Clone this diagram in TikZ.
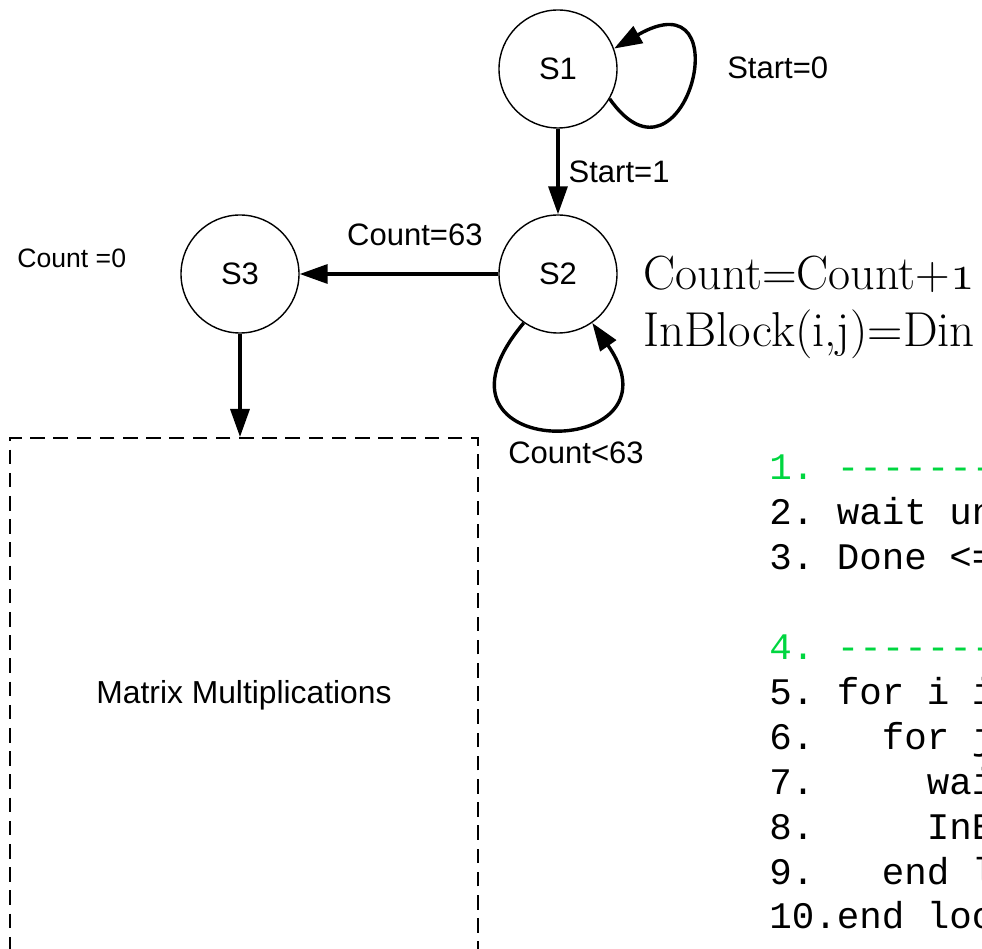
\documentclass[tikz,border=0pt]{standalone}
\usepackage{fontspec}
\setsansfont{Liberation Sans}
\setmonofont{Liberation Mono}
\usetikzlibrary{arrows.meta,positioning}
\definecolor{cmtgreen}{RGB}{0,214,64}

\begin{document}
\begin{tikzpicture}[x=0.5pt, y=0.5pt,
    state/.style={draw, circle, line width=0.7pt, minimum size=59pt, inner sep=0pt,
        font=\sffamily\fontsize{15.5}{18}\selectfont},
    trans/.style={line width=1.7pt, -{Triangle[length=14pt,width=9.5pt]}},
    lbl/.style={inner sep=0pt, font=\sffamily\fontsize{15.5}{18}\selectfont},
    codeline/.style={anchor=base west, inner sep=0pt,
        font=\ttfamily\fontsize{18.75}{22.5}\selectfont}]
    \useasboundingbox (0,0) rectangle (982,949);
    \clip (0,0) rectangle (982,949);

    % States
    \node[state] (s1) at (558,880) {S1};
    \node[state] (s2) at (558,675) {S2};
    \node[state] (s3) at (240,675) {S3};

    % Matrix block, runs off the bottom of the page
    \node[draw, dash pattern=on 7.3pt off 4.3pt, line width=1pt,
        minimum width=234pt, minimum height=257pt,
        font=\sffamily\fontsize{15.9}{19}\selectfont] (mm) at (244,254) {Matrix Multiplications};

    % Transitions
    \draw[trans] (s1) -- (s2) node[lbl, midway, right=4.5pt] {Start=1};
    \draw[trans] (s1.-30) .. controls +(-55:130) and +(30:150) .. (s1.20)
        node[lbl, pos=0.5, right=18.5pt, yshift=9pt] {Start=0};
    \draw[trans] (s2) -- (s3) node[lbl, pos=0.42, above=13pt] {Count=63};
    \draw[trans] (s2.-125) .. controls +(-130:185) and +(-55:170) .. (s2.-55)
        node[lbl, pos=0.5, below=6pt, xshift=13pt] {Count<63};
    \draw[trans] (s3.south) -- (s3.south |- mm.north);

    % Actions
    \node[lbl, anchor=base west, font=\sffamily\fontsize{13.3}{16}\selectfont] (init) at (17,681) {Count =0};
    \node[anchor=base west, inner sep=0pt, font=\fontsize{24}{28}\selectfont] (act1) at (643,659) {Count=Count+{\usefont{OML}{cmm}{m}{it}1}};
    \node[anchor=base west, inner sep=0pt, font=\fontsize{24.5}{28}\selectfont] (act2) at (643,602) {InBlock(i,j)=Din};

    % Pseudo code
    \node[codeline, text=cmtgreen] (c1) at (769,469) {1.~--------------};
    \node[codeline, text=cmtgreen] (c4) at (769,289) {4.~--------------};
    \foreach \y/\txt [count=\k] in {424/{2.~wait until}, 379/{3.~Done <=},
        244/{5.~for i in}, 199/{6.~~~for j in}, 154/{7.~~~~~wait},
        109/{8.~~~~~InBlock}, 64/{9.~~~end loop}, 20/{10.end loop}} {
        \node[codeline] (code\k) at (769,\y) {\txt};
    }
\end{tikzpicture}
\end{document}
